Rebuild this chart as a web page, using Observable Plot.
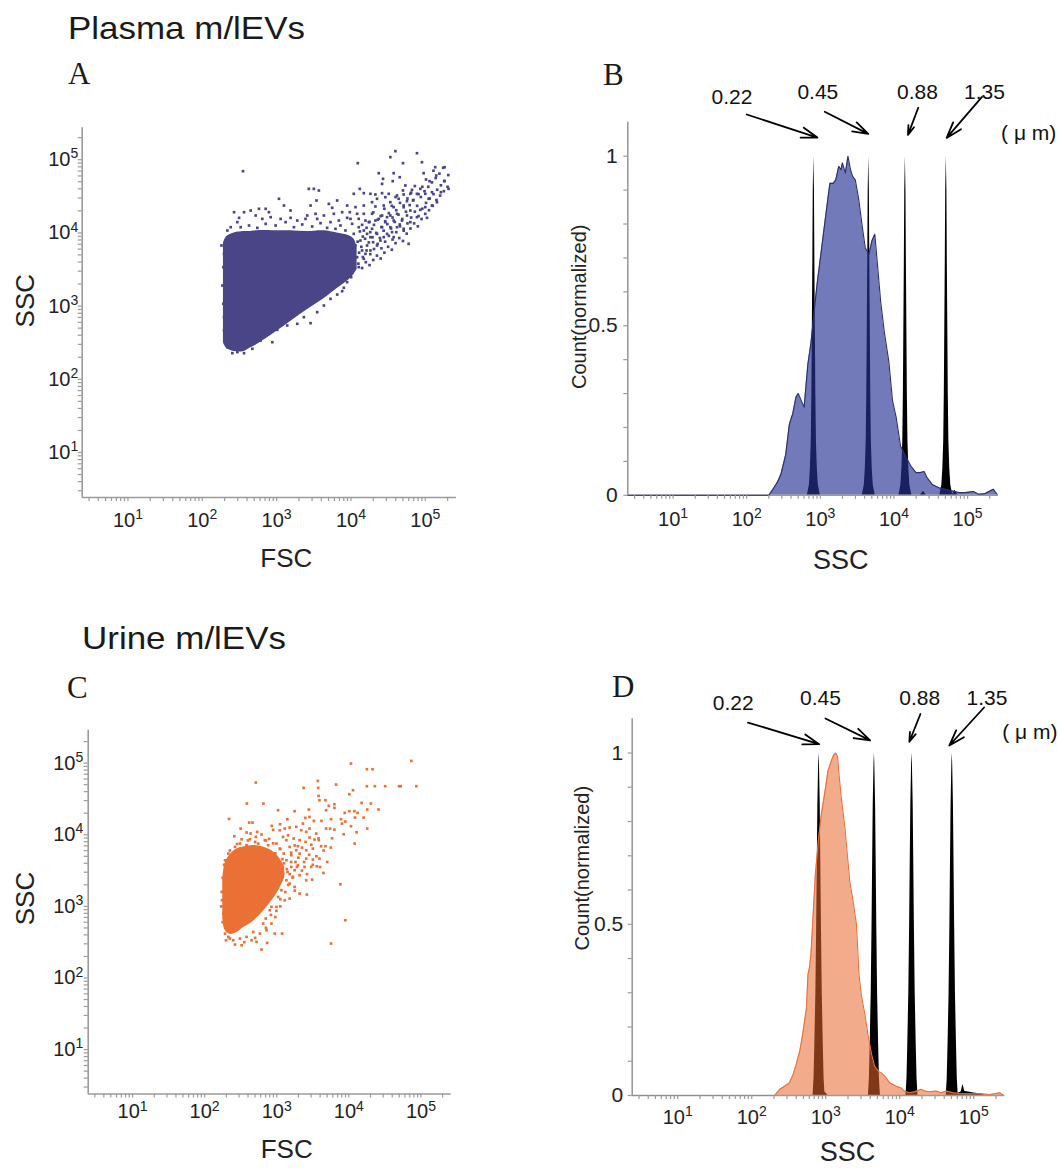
<!DOCTYPE html>
<html><head><meta charset="utf-8">
<script src="https://cdn.jsdelivr.net/npm/d3@7"></script>
<script src="https://cdn.jsdelivr.net/npm/@observablehq/plot@0.6"></script>
<style>
body{margin:0;background:#fff;}
#page{position:relative;width:1058px;height:1168px;overflow:hidden;font-family:"Liberation Sans",Arial,sans-serif;background:#fff;}
#page svg{position:absolute;}
</style></head><body><div id="page"></div>
<script>
// ---------- shared axis data ----------
const logDomain = [0.385, 5.42];            // decades shown on every log axis
const decadeTicks = [10, 100, 1000, 10000, 100000];
const countTicks = [0, 0.5, 1];
const countTickLabels = ["0", "0.5", "1"];

// ---------- Panel A: plasma FSC/SSC (log10 values) ----------
const plasmaCoreLog = [ // [logFSC, logSSC low, logSSC high] of the dense cloud
  [2.285,2.50,3.86],[2.33,2.42,3.95],[2.428,2.38,4.0],[2.562,2.38,4.02],[2.651,2.43,4.02],
  [2.741,2.48,4.03],[2.965,2.63,4.03],[3.188,2.79,4.03],[3.412,2.95,4.02],[3.636,3.10,4.03],
  [3.815,3.24,4.0],[3.949,3.34,3.97],[4.038,3.43,3.92],[4.083,3.50,3.80]];
const plasmaEventsLog = [ // [logFSC, logSSC] sparse events
  [2.548,4.843],[4.092,4.953],[4.598,5.117],[4.888,5.089],[4.530,5.035],[4.955,4.966],[4.700,4.953],
  [4.374,4.816],[4.575,4.816],[4.656,4.761],[5.134,4.898],[5.260,4.898],[4.978,4.816],[4.432,4.739],
  [5.058,4.707],[5.255,4.707],[5.148,4.784],[4.562,4.707],[4.732,4.648],[4.821,4.588],[4.933,4.602],
  [4.419,4.670],[4.119,4.602],[3.434,4.602],[3.501,4.602],[3.569,4.579],[3.032,4.466],[3.537,4.443],
  [5.313,4.602],[5.210,4.556],[5.090,4.556],[5.000,4.534],[4.888,4.534],[4.799,4.534],[4.709,4.525],
  [4.620,4.511],[4.508,4.534],[4.419,4.543],[4.329,4.525],[4.262,4.534],[4.173,4.543],[4.038,4.534],
  [5.157,4.420],[5.045,4.466],[4.835,4.443],[4.754,4.434],[4.642,4.466],[4.530,4.420],[4.463,4.488],
  [4.351,4.466],[4.284,4.420],[3.815,4.443],[3.703,4.397],[3.457,4.374],[3.949,4.374],[4.061,4.352],
  [4.173,4.374],[4.329,4.361],[4.441,4.374],[4.575,4.352],[4.709,4.374],[4.799,4.306],[4.933,4.315],
  [5.000,4.352],[5.090,4.374],[4.754,4.238],[4.620,4.261],[4.530,4.238],[4.419,4.238],[4.284,4.261],
  [4.173,4.261],[4.083,4.261],[3.985,4.283],[3.882,4.283],[3.770,4.261],[3.636,4.238],[3.524,4.261],
  [3.412,4.238],[3.188,4.306],[3.099,4.374],[2.853,4.329],[2.763,4.329],[2.651,4.306],[2.562,4.283],
  [2.428,4.283],[2.495,4.206],[2.718,4.238],[2.920,4.215],[3.054,4.192],[3.278,4.169],[3.389,4.192],
  [3.725,4.147],[3.837,4.169],[3.949,4.206],[4.195,4.169],[4.329,4.169],[4.463,4.147],[4.575,4.169],
  [4.687,4.169],[4.530,4.078],[4.419,4.078],[4.284,4.056],[4.217,3.987],[4.351,3.987],[4.486,3.987],
  [4.575,3.942],[4.396,3.896],[4.298,3.873],[4.217,3.828],[4.150,3.760],[4.083,3.668],[4.173,3.646],
  [4.105,3.532],[4.038,3.577],[4.776,3.851],[4.553,4.010],[4.709,4.056],[4.656,4.115],[4.888,4.215],
  [5.023,4.206],[4.016,4.124],[4.105,4.078],[4.173,4.033],[4.262,3.942],[4.128,3.896],[4.061,3.828],
  [4.351,3.828],[4.441,3.942],[4.262,3.760],[4.195,3.714],[4.038,3.987],[3.926,4.033],[3.859,4.101],
  [4.486,4.215],[4.374,4.192],[4.240,4.147],[4.620,4.078],[4.799,4.147],[4.105,4.192],[3.994,4.192],
  [2.271,3.281],[2.284,3.532],[2.284,3.031],[2.293,2.849],[2.293,2.667],[2.316,2.507],[2.338,2.439],
  [2.405,2.357],[2.472,2.371],[2.562,2.357],[2.674,2.416],[2.786,2.530],[2.942,2.507],[2.875,2.612],
  [3.009,2.676],[3.143,2.735],[3.278,2.758],[3.457,2.767],[3.367,2.849],[3.546,2.917],[3.636,3.008],
  [3.725,3.099],[3.815,3.158],[3.904,3.250],[3.949,3.327],[4.003,3.395],[3.882,3.204],[2.258,3.828],
  [2.293,3.714],[2.338,4.033],[2.383,4.078],[2.517,4.078],[2.629,4.101],[2.741,4.069],[2.853,4.124],
  [2.987,4.101],[3.121,4.147],[3.233,4.078],[3.345,4.115],[3.479,4.088],[3.591,4.133],[3.680,4.069],
  [3.792,4.056],[3.546,4.192],[3.188,4.206],[2.808,4.192],[2.472,4.147],[3.748,4.343],[2.897,4.283],
  // medium-density band toward the upper right
  [4.10,3.58],[4.11,3.73],[4.09,3.88],[4.12,4.02],[4.15,3.52],[4.16,3.67],[4.14,3.81],[4.16,3.95],
  [4.15,4.11],[4.20,3.60],[4.21,3.76],[4.19,3.92],[4.21,4.07],[4.25,3.56],[4.26,3.71],[4.24,3.87],
  [4.26,4.01],[4.25,4.15],[4.30,3.63],[4.31,3.78],[4.29,3.94],[4.31,4.11],[4.30,4.28],[4.35,3.69],
  [4.36,3.85],[4.34,4.00],[4.36,4.18],[4.40,3.65],[4.41,3.79],[4.39,3.93],[4.41,4.08],[4.40,4.23],
  [4.45,3.73],[4.46,3.88],[4.44,4.03],[4.46,4.16],[4.45,4.33],[4.50,3.81],[4.51,3.96],[4.49,4.12],
  [4.51,4.27],[4.55,3.77],[4.56,3.91],[4.54,4.06],[4.56,4.21],[4.55,4.37],[4.60,3.86],[4.61,4.01],
  [4.59,4.15],[4.61,4.31],[4.60,4.49],[4.65,3.93],[4.66,4.09],[4.64,4.25],[4.66,4.41],[4.70,3.89],
  [4.71,4.03],[4.69,4.19],[4.71,4.35],[4.70,4.58],[4.75,3.99],[4.76,4.13],[4.74,4.29],[4.76,4.47],
  [4.80,4.06],[4.81,4.21],[4.79,4.38],[4.81,4.55],[4.85,4.13],[4.86,4.29],[4.84,4.45],[4.86,4.64],
  [4.90,4.09],[4.91,4.23],[4.89,4.37],[4.91,4.53],[4.95,4.19],[4.96,4.33],[4.94,4.49],[4.96,4.63],
  [5.00,4.26],[5.01,4.41],[4.99,4.57],[5.01,4.73],[5.05,4.31],[5.06,4.47],[5.04,4.63],[5.10,4.37],
  [5.11,4.53],[5.09,4.69],[5.11,4.85],[5.15,4.45],[5.16,4.59],[5.14,4.75],[5.20,4.51],[5.21,4.65],
  [5.19,4.81],[5.25,4.57],[5.26,4.71],[5.24,4.89],[5.30,4.63],[5.31,4.79]];

// ---------- Panel C: urine FSC/SSC (log10 values) ----------
const urineCoreLog = [
  [2.251,2.853,3.36],[2.283,2.667,3.60],[2.352,2.610,3.72],[2.444,2.630,3.80],[2.536,2.700,3.83],
  [2.674,2.790,3.85],[2.812,2.930,3.83],[2.927,3.070,3.78],[3.042,3.250,3.67],[3.111,3.400,3.55]];
const urineEventsLog = [
  [4.867,5.031],[4.030,4.994],[4.251,4.915],[4.329,4.915],[2.710,4.729],[3.570,4.752],[3.823,4.701],
  [4.251,4.678],[4.361,4.678],[4.504,4.678],[4.697,4.678],[4.720,4.678],[4.936,4.678],[3.373,4.654],
  [3.575,4.654],[4.058,4.622],[4.007,4.566],[3.580,4.543],[3.593,4.482],[3.676,4.482],[3.800,4.426],
  [3.800,4.375],[3.722,4.403],[4.177,4.445],[4.306,4.436],[2.586,4.436],[2.816,4.436],[3.019,4.343],
  [3.248,4.329],[3.446,4.352],[3.943,4.305],[4.007,4.329],[4.076,4.329],[4.122,4.305],[4.255,4.352],
  [4.412,4.352],[2.338,4.221],[2.618,4.170],[2.664,4.170],[2.931,4.124],[3.046,4.147],[3.147,4.217],
  [3.396,4.235],[3.515,4.193],[3.455,4.086],[3.621,4.193],[3.754,4.217],[3.892,4.217],[3.952,4.184],
  [4.085,4.240],[4.205,4.240],[3.906,4.156],[4.030,4.119],[2.499,4.086],[2.582,4.031],[2.637,4.017],
  [2.729,4.040],[2.789,4.003],[2.950,4.068],[3.042,4.063],[3.111,4.086],[3.179,4.100],[3.271,4.110],
  [3.340,4.063],[3.409,4.040],[3.685,4.086],[3.740,4.086],[3.800,4.072],[3.929,4.007],[4.108,4.035],
  [4.255,4.086],[2.412,3.979],[2.513,3.937],[2.628,3.937],[2.710,3.970],[2.835,3.924],[2.894,3.942],
  [3.088,3.970],[3.157,3.993],[3.235,3.947],[3.317,3.924],[3.455,3.961],[3.524,3.933],[3.584,3.924],
  [3.768,3.951],[3.616,3.840],[3.676,3.840],[4.081,3.877],[2.490,3.877],[2.996,3.877],[3.179,3.830],
  [3.294,3.840],[3.409,3.784],[3.501,3.807],[3.750,3.821],[3.317,3.737],[3.409,3.667],[3.501,3.654],
  [3.593,3.667],[3.294,3.574],[3.386,3.551],[3.478,3.551],[3.556,3.560],[3.648,3.467],[3.248,3.505],
  [3.317,3.435],[3.409,3.365],[3.492,3.374],[3.248,3.272],[3.317,3.179],[3.418,3.165],[3.179,3.109],
  [3.111,3.086],[2.996,2.993],[2.904,2.946],[2.848,2.830],[2.996,2.937],[2.812,2.760],[2.927,2.760],
  [3.074,2.620],[2.973,2.620],[2.858,2.667],[2.766,2.620],[2.674,2.643],[2.582,2.574],[2.490,2.550],
  [2.398,2.527],[2.329,2.574],[2.297,2.527],[2.283,2.620],[2.421,2.467],[2.513,2.457],[2.651,2.527],
  [2.720,2.504],[2.789,2.397],[2.867,2.490],[3.883,3.309],[3.952,2.806],[3.754,2.481],[2.237,3.202],
  [2.260,2.899],[2.241,3.086],[3.097,3.737],[3.202,3.714],[3.271,3.784],[3.134,3.924],[3.042,3.807],
  [3.134,3.644],[3.202,3.551],[3.134,3.365],[3.065,3.225],[3.179,3.318],[3.225,3.412],[3.088,3.458],
  [3.019,3.132],[2.927,2.993],[2.283,3.644],[2.329,3.737],[2.421,3.830],[2.582,3.854],[2.743,3.877],
  [2.881,3.854],[2.444,3.737],[3.685,4.343],[3.455,4.249],[3.363,4.156],[3.547,4.017],
  // fringe around the dense cloud
  [3.10,3.60],[3.15,3.48],[3.20,3.62],[3.22,3.40],[3.28,3.55],[3.30,3.68],[3.35,3.50],[3.38,3.62],
  [3.42,3.45],[3.45,3.72],[3.50,3.58],[3.55,3.70],[3.60,3.55],[3.65,3.78],[3.70,3.62],[3.16,3.30],
  [3.25,3.22],[3.12,3.20],[3.05,3.10],[3.20,3.75],[3.25,3.85],[3.35,3.82],[3.40,3.90],[3.48,3.86],
  [3.58,3.95],[3.05,3.80],[2.95,3.88],[2.85,3.92],[2.70,3.90],[2.60,3.92],[2.45,3.87],[2.35,3.78],
  [2.27,3.58],[2.25,3.40],[2.23,3.00],[2.25,2.78],[2.35,2.55],[2.55,2.50],[2.70,2.56],[2.85,2.70],
  [2.98,2.85],[3.05,3.00],[2.92,2.88],[3.14,3.52],[3.08,3.66],[2.98,3.74],[3.18,3.45],[3.26,3.62]];

// ---------- Panel B: plasma SSC histogram [logSSC, normalized count] ----------
const plasmaHistLog = [
  [0.385,0],[2.30,0],[2.357,0.018],[2.42,0.04],[2.465,0.062],[2.53,0.12],[2.58,0.21],[2.625,0.24],
  [2.67,0.29],[2.70,0.30],[2.74,0.28],[2.78,0.26],[2.83,0.385],[2.873,0.45],[2.92,0.55],[2.96,0.63],
  [3.03,0.75],[3.085,0.845],[3.13,0.92],[3.175,0.92],[3.21,0.93],[3.25,0.97],[3.28,0.96],[3.30,0.98],
  [3.34,0.95],[3.375,1.0],[3.41,0.96],[3.44,0.94],[3.475,0.93],[3.52,0.875],[3.565,0.80],[3.61,0.73],
  [3.66,0.71],[3.70,0.75],[3.74,0.77],[3.78,0.67],[3.82,0.57],[3.87,0.48],[3.93,0.395],[3.98,0.28],
  [4.03,0.23],[4.09,0.145],[4.16,0.115],[4.23,0.086],[4.30,0.067],[4.36,0.067],[4.41,0.07],[4.45,0.052],
  [4.52,0.032],[4.61,0.022],[4.70,0.018],[4.79,0.013],[4.88,0.008],[4.97,0.008],[5.08,0.011],[5.15,0.003],
  [5.24,0.005],[5.35,0.018],[5.40,0.003]];
// calibration bead peaks (log SSC of 0.22, 0.45, 0.88, 1.35 µm beads)
const beadPeaksB = [2.912, 3.658, 4.155, 4.711];
const beadProfileB = [[-0.088,0],[-0.061,0.03],[-0.047,0.08],[-0.035,0.16],[-0.027,0.3],[-0.0203,0.5],
  [-0.0136,0.7],[-0.0081,0.9],[0,1],[0.0081,0.9],[0.0136,0.7],[0.0203,0.5],[0.027,0.3],[0.035,0.16],
  [0.047,0.08],[0.061,0.03],[0.088,0]];
const beadTailB = [[4.36,0],[4.40,0.012],[4.44,0],[4.79,0],[4.83,0.015],[4.87,0]];
const beadLabels = ["0.22", "0.45", "0.88", "1.35"];
const unitLabel = "( μ m)";
const arrowTailB = [[2.00,1.123],[3.06,1.131],[4.33,1.143],[5.196,1.175]];
const arrowTipB = [[2.96,1.055],[3.65,1.066],[4.19,1.063],[4.716,1.054]];
const labelPosB = [[1.80,1.175],[2.966,1.19],[4.32,1.19],[5.23,1.19]];
const unitPosB = [5.455, 1.067];

// ---------- Panel D: urine SSC histogram ----------
const urineHistLog = [
  [0.385,0],[2.31,0],[2.38,0.018],[2.445,0.027],[2.51,0.037],[2.56,0.061],[2.60,0.09],[2.65,0.13],
  [2.69,0.18],[2.74,0.256],[2.76,0.353],[2.78,0.373],[2.80,0.41],[2.83,0.528],[2.86,0.645],[2.90,0.742],
  [2.94,0.82],[2.99,0.888],[3.03,0.947],[3.08,0.98],[3.11,0.995],[3.135,1.0],[3.16,0.99],[3.18,0.937],
  [3.21,0.869],[3.26,0.781],[3.28,0.732],[3.325,0.625],[3.37,0.567],[3.415,0.50],[3.45,0.353],[3.48,0.295],
  [3.53,0.236],[3.57,0.178],[3.62,0.12],[3.66,0.086],[3.71,0.071],[3.75,0.066],[3.80,0.056],[3.865,0.037],
  [3.955,0.027],[4.02,0.022],[4.06,0.013],[4.13,0.008],[4.20,0.011],[4.29,0.018],[4.34,0.013],[4.40,0.011],
  [4.49,0.013],[4.56,0.008],[4.63,0.013],[4.72,0.008],[4.81,0.006],[4.95,0.005],[5.08,0.005],[5.22,0.003],
  [5.35,0.008],[5.40,0.001]];
const beadPeaksD = [2.91, 3.658, 4.166, 4.71];
const beadProfileD = [[-0.081,0],[-0.068,0.05],[-0.057,0.15],[-0.043,0.3],[-0.032,0.5],[-0.023,0.7],
  [-0.016,0.85],[-0.0054,0.97],[0,1],[0.0054,0.97],[0.016,0.85],[0.023,0.7],[0.032,0.5],[0.043,0.3],
  [0.057,0.15],[0.068,0.05],[0.081,0]];
const beadTailD = [[2.93,0],[2.96,0.012],[3.0,0.008],[3.03,0],[4.74,0],[4.78,0.006],[4.83,0.01],
  [4.855,0.032],[4.88,0.012],[4.93,0.01],[4.98,0.008],[5.05,0.006],[5.12,0.004],[5.15,0]];
const arrowTailD = [[1.95,1.089],[2.996,1.101],[4.28,1.114],[5.14,1.133]];
const arrowTipD = [[2.91,1.026],[3.60,1.037],[4.13,1.033],[4.67,1.022]];
const labelPosD = [[1.75,1.145],[2.93,1.16],[4.27,1.16],[5.18,1.16]];
const unitPosD = [5.385, 1.062];

// ---------- helpers ----------
const GRAY = "#9b9b9b";
const FONT = '"Liberation Sans", Arial, Helvetica, sans-serif';
const xDomain = logDomain.map(v => 10 ** v);
const minorTicks = [];
for (let k = 0; k <= 5; k++) for (let m = 1; m <= 9; m++) {
  const v = m * 10 ** k; if (v >= xDomain[0] && v <= xDomain[1]) minorTicks.push(v);
}
const expFormat = d => "10^" + Math.round(Math.log10(d));
const page = document.getElementById("page");

function place(svg, left, top) {
  svg.style.left = left + "px"; svg.style.top = top + "px";
  svg.style.maxWidth = "none"; svg.style.background = "transparent"; svg.style.overflow = "visible";
  svg.querySelectorAll("text").forEach(t => {
    const m = /^10\^(\d)$/.exec(t.textContent);
    if (m && !t.querySelector("tspan")) {
      t.textContent = "10";
      const ts = document.createElementNS("http://www.w3.org/2000/svg", "tspan");
      ts.setAttribute("dy", "-0.55em"); ts.setAttribute("font-size", "0.7em");
      ts.textContent = m[1]; t.appendChild(ts);
    }
  });
  page.appendChild(svg);
}

function scatterPanel(o) {
  const env = o.core.map(([lx, lo, hi]) => ({fsc: 10 ** lx, lo: 10 ** lo, hi: 10 ** hi}));
  const pts = o.events.map(([lx, ly]) => ({fsc: 10 ** lx, ssc: 10 ** ly}));
  const yDomain = o.yLog.map(v => 10 ** v);
  return Plot.plot({
    width: o.width, height: o.height,
    marginLeft: o.ml, marginRight: o.mr, marginTop: o.mt, marginBottom: o.mb,
    style: {fontFamily: FONT, background: "transparent", overflow: "visible"},
    x: {type: "log", domain: xDomain},
    y: {type: "log", domain: yDomain},
    marks: [
      Plot.areaY(env, {x: "fsc", y1: "lo", y2: "hi", fill: o.color, curve: "catmull-rom"}),
      Plot.dot(pts, {x: "fsc", y: "ssc", symbol: "square", r: 1.5, fill: o.color}),
      Plot.ruleX([xDomain[0]], {stroke: GRAY, strokeWidth: 1.6}),
      Plot.ruleY([yDomain[0]], {stroke: GRAY, strokeWidth: 1.6}),
      Plot.axisX({ticks: minorTicks, tickSize: 4, tickFormat: () => "", stroke: GRAY, strokeWidth: 1.2, label: null}),
      Plot.axisY({ticks: minorTicks.filter(v => v <= yDomain[1]), tickSize: 4, tickFormat: () => "", stroke: GRAY, strokeWidth: 1.2, label: null}),
      Plot.axisX({ticks: decadeTicks, tickSize: 0, tickPadding: o.xPad, tickFormat: expFormat, fontSize: 20, fill: "#222", label: null}),
      Plot.axisY({ticks: decadeTicks, tickSize: 0, tickPadding: o.yPad, tickFormat: expFormat, fontSize: 20, fill: "#222", label: null}),
      Plot.text(["FSC"], {frameAnchor: "bottom", textAnchor: "middle", lineAnchor: "middle", dx: o.fscDx, dy: o.fscDy, fontSize: 26, fill: "#222"}),
      Plot.text(["SSC"], {frameAnchor: "left", textAnchor: "middle", lineAnchor: "middle", rotate: -90, dx: o.sscDx, dy: o.sscDy, fontSize: 26, fill: "#222"})
    ]
  });
}

function histPanel(o) {
  const sample = o.hist.map(([lx, c]) => ({ssc: 10 ** lx, count: c}));
  const beads = [];
  o.peaks.forEach((c, i) => o.profile.forEach(([dx, h]) => beads.push({peak: i, ssc: 10 ** (c + dx), count: h})));
  o.tail.forEach(([lx, h]) => beads.push({peak: 9, ssc: 10 ** lx, count: h}));
  const arrows = beadLabels.map((label, i) => ({
    label,
    x1: 10 ** o.tails[i][0], y1: o.tails[i][1],
    x2: 10 ** o.tips[i][0], y2: o.tips[i][1],
    lx: 10 ** o.labels[i][0], ly: o.labels[i][1]
  }));
  return Plot.plot({
    width: o.width, height: o.height,
    marginLeft: o.ml, marginRight: o.mr, marginTop: o.mt, marginBottom: o.mb,
    style: {fontFamily: FONT, background: "transparent", overflow: "visible"},
    x: {type: "log", domain: xDomain},
    y: {domain: [0, 1.1]},
    marks: [
      Plot.areaY(beads, {x: "ssc", y: "count", z: "peak", fill: "black"}),
      Plot.areaY(sample, {x: "ssc", y: "count", fill: o.fill, fillOpacity: o.opacity}),
      Plot.ruleX([xDomain[0]], {stroke: GRAY, strokeWidth: 1.6}),
      Plot.ruleY([0], {stroke: GRAY, strokeWidth: 1.6}),
      Plot.lineY(sample, {x: "ssc", y: "count", stroke: o.stroke, strokeWidth: 1.1}),
      Plot.axisX({ticks: minorTicks, tickSize: 4, tickFormat: () => "", stroke: GRAY, strokeWidth: 1.2, label: null}),
      Plot.axisY({ticks: d3.range(0, 1.05, 0.1), tickSize: 4, tickFormat: () => "", stroke: GRAY, strokeWidth: 1.2, label: null}),
      Plot.axisX({ticks: decadeTicks, tickSize: 0, tickPadding: o.xPad, tickFormat: expFormat, fontSize: 20, fill: "#222", label: null}),
      Plot.axisY({ticks: countTicks, tickSize: 0, tickPadding: o.yPad, tickFormat: (d, i) => countTickLabels[i], fontSize: 21, fill: "#222", label: null}),
      Plot.text(["SSC"], {frameAnchor: "bottom", textAnchor: "middle", lineAnchor: "middle", dx: o.sscDx, dy: o.sscDy, fontSize: 27, fill: "#222"}),
      Plot.text(["Count(normalized)"], {frameAnchor: "left", textAnchor: "middle", lineAnchor: "middle", rotate: -90, dx: o.cDx, dy: o.cDy, fontSize: 20, fill: "#222"}),
      Plot.arrow(arrows, {x1: "x1", y1: "y1", x2: "x2", y2: "y2", stroke: "black", strokeWidth: 1.8, headLength: 14, headAngle: 36}),
      Plot.text(arrows, {x: "lx", y: "ly", text: "label", fontSize: 21, fill: "#111"}),
      Plot.text([{x: 10 ** o.unit[0], y: o.unit[1]}], {x: "x", y: "y", text: () => unitLabel, textAnchor: "start", fontSize: 21, fill: "#111"})
    ]
  });
}

// ---------- build panels ----------
place(scatterPanel({core: plasmaCoreLog, events: plasmaEventsLog, color: "#4a4587", yLog: [0.385, 5.436],
  width: 480, height: 490, ml: 81.7, mr: 24, mt: 27.3, mb: 93, xPad: 15, yPad: 4,
  fscDx: 17, fscDy: 61, sscDx: -56.7, sscDy: -12}), 0, 100);

place(histPanel({hist: plasmaHistLog, peaks: beadPeaksB, profile: beadProfileB, tail: beadTailB,
  tails: arrowTailB, tips: arrowTipB, labels: labelPosB, unit: unitPosB,
  fill: "#263395", opacity: 0.65, stroke: "#2b2e6b",
  width: 528, height: 590, ml: 97.3, mr: 60, mt: 121.8, mb: 95.2, xPad: 16, yPad: 10,
  sscDx: 27.5, sscDy: 65, cDx: -48, cDy: -2}), 530, 0);

place(scatterPanel({core: urineCoreLog, events: urineEventsLog, color: "#ea7035", yLog: [0.38, 5.46],
  width: 480, height: 468, ml: 87.7, mr: 29.3, mt: 29.7, mb: 74.5, xPad: 10, yPad: 5,
  fscDx: 17, fscDy: 55.5, sscDx: -62.7, sscDy: -13.6}), 0, 700);

place(histPanel({hist: urineHistLog, peaks: beadPeaksD, profile: beadProfileD, tail: beadTailD,
  tails: arrowTailD, tips: arrowTipD, labels: labelPosD, unit: unitPosD,
  fill: "#e7682e", opacity: 0.55, stroke: "#e8713a",
  width: 528, height: 568, ml: 101.7, mr: 53.7, mt: 118.3, mb: 73, xPad: 14, yPad: 9,
  sscDx: 29, sscDy: 57, cDx: -50, cDy: -39}), 530, 600);

// ---------- panel titles and letters ----------
const ns = "http://www.w3.org/2000/svg";
const over = document.createElementNS(ns, "svg");
over.setAttribute("width", 1058); over.setAttribute("height", 1168);
over.style.left = "0px"; over.style.top = "0px"; over.style.pointerEvents = "none";
const headings = [
  {t: "Plasma m/lEVs", x: 68, y: 39, size: 31.5, len: 237, serif: false},
  {t: "A", x: 68, y: 84, size: 31, serif: true},
  {t: "B", x: 603, y: 85, size: 31, serif: true},
  {t: "Urine m/lEVs", x: 82, y: 649, size: 31.5, len: 204, serif: false},
  {t: "C", x: 67, y: 698, size: 31, serif: true},
  {t: "D", x: 612, y: 697, size: 31, serif: true}
];
headings.forEach(h => {
  const el = document.createElementNS(ns, "text");
  el.setAttribute("x", h.x); el.setAttribute("y", h.y);
  el.setAttribute("font-size", h.size);
  el.setAttribute("font-family", h.serif ? '"Liberation Serif", "Times New Roman", serif' : FONT);
  el.setAttribute("fill", "#1a1a1a");
  if (h.len) { el.setAttribute("textLength", h.len); el.setAttribute("lengthAdjust", "spacingAndGlyphs"); }
  el.textContent = h.t;
  over.appendChild(el);
});
page.appendChild(over);
</script></body></html>
